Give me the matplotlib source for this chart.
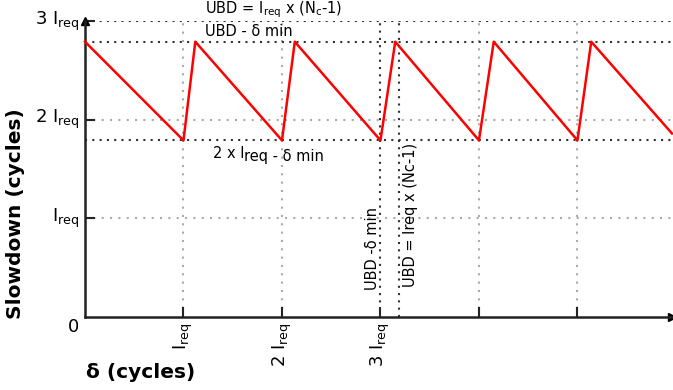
import numpy as np
import matplotlib
matplotlib.use("Agg")
import matplotlib.pyplot as plt

# sawtooth (delta in units of I_req, slowdown in units of I_req)
delta = [0, 1, 1.12, 2, 2.13, 3, 3.15, 4, 4.15, 5, 5.14, 5.96]
slowdown = [2.79, 1.79, 2.79, 1.79, 2.79, 1.79, 2.79, 1.79, 2.79, 1.79, 2.79, 1.86]

ubd = 3.0
ubd_min = 2.79
low = 1.79
ubd_x = 3.19
ubd_min_x = 3.0

xticks = [1, 2, 3, 4, 5]
xticklabels = [r"I$_{\mathrm{req}}$", r"2 I$_{\mathrm{req}}$", r"3 I$_{\mathrm{req}}$", "", ""]
yticks = [1, 2, 3]
yticklabels = [r"I$_{\mathrm{req}}$", r"2 I$_{\mathrm{req}}$", r"3 I$_{\mathrm{req}}$"]

fig = plt.figure(figsize=(6.73, 3.9), dpi=100)
ax = fig.add_axes([85 / 673, 73 / 390, 587 / 673, 296 / 390])
ax.set_xlim(0, 5.96)
ax.set_ylim(0, 3)

grey = "#aaaaaa"
dark = "#333333"
# grey grid
for y in [1, 2]:
    ax.axhline(y, color=grey, ls=(0, (1, 3)), lw=1.5, zorder=1)
for x in [1, 2, 4, 5]:
    ax.axvline(x, color=grey, ls=(0, (1, 3)), lw=1.5, zorder=1)
# black guides
for y in [ubd, ubd_min, low]:
    ax.axhline(y, color=dark, ls=(0, (1, 2.5)), lw=1.5, zorder=2)
for x in [ubd_min_x, ubd_x]:
    ax.axvline(x, color=dark, ls=(0, (1, 2.5)), lw=1.5, zorder=2)

ax.plot(delta, slowdown, color="red", lw=1.8, zorder=3, clip_on=False)

for s in ["top", "right"]:
    ax.spines[s].set_visible(False)
for s in ["left", "bottom"]:
    ax.spines[s].set_linewidth(1.8)
    ax.spines[s].set_color("#222222")
ax.plot(1, 0, ">", color="black", ms=6, transform=ax.transAxes, clip_on=False)
ax.plot(0, 1, "^", color="black", ms=6, transform=ax.transAxes, clip_on=False)

ax.set_xticks(xticks)
ax.set_xticklabels(xticklabels, rotation=90, fontsize=13)
ax.set_yticks(yticks)
ax.set_yticklabels(yticklabels, fontsize=13, va="center")
ax.tick_params(direction="in", length=7, width=1.5, color="#222222", pad=4)
ax.text(-0.12, -0.1, "0", fontsize=13, ha="center", va="center")

ax.set_xlabel("δ (cycles)", fontsize=14.5, fontweight="bold", va="center")
ax.xaxis.set_label_coords(0.095, -0.186)
ax.set_ylabel("Slowdown (cycles)", fontsize=14.5, fontweight="bold")
ax.yaxis.set_label_coords(-0.102, 0.35)

ax.text(1.22, 3.11, r"UBD = I$_{\mathrm{req}}$ x (N$_{\mathrm{c}}$-1)", fontsize=10.5, va="center")
ax.text(1.22, 2.89, "UBD - δ min", fontsize=10.5, va="center")
ax.text(1.30, 1.611, "2 x I", fontsize=10.5, va="baseline")
ax.text(1.614, 1.58, "req - δ min", fontsize=10.5, va="baseline")
ax.text(2.92, 0.27, "UBD -δ min", fontsize=10.5, rotation=90, ha="center", va="bottom")
ax.text(3.30, 0.30, "UBD = Ireq x (Nc-1)", fontsize=10.5, rotation=90, ha="center", va="bottom")

fig.savefig("out.png", dpi=100)
